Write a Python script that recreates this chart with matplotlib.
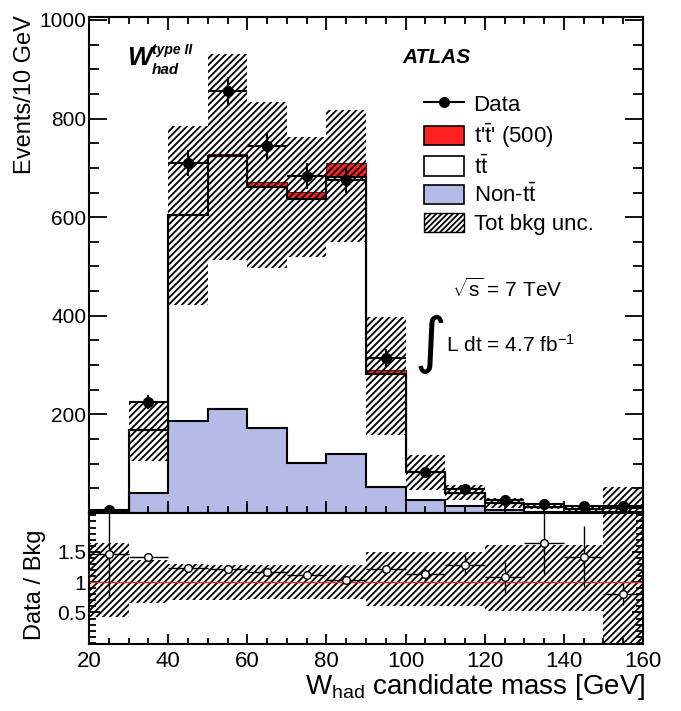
import numpy as np
import matplotlib
matplotlib.use("Agg")
import matplotlib.pyplot as plt
from matplotlib.patches import Patch
from matplotlib.lines import Line2D
from matplotlib.ticker import MultipleLocator, FixedLocator, FuncFormatter

plt.rcParams['font.family'] = ['Liberation Sans', 'DejaVu Sans']
plt.rcParams['mathtext.fontset'] = 'custom'
plt.rcParams['mathtext.rm'] = 'Liberation Sans'
plt.rcParams['mathtext.it'] = 'Liberation Sans:italic'
plt.rcParams['mathtext.bf'] = 'Liberation Sans:bold'
plt.rcParams['hatch.linewidth'] = 1.3

# W_had candidate mass, 10 GeV bins
bin_edges = [20, 30, 40, 50, 60, 70, 80, 90, 100, 110, 120, 130, 140, 150, 160]

data = [6, 225, 710, 855, 745, 683, 675, 314, 84, 48, 26, 19, 14, 14]
data_err = [3, 15, 27, 29, 27, 26, 26, 18, 9, 7, 5, 4, 4, 4]
non_tt = [1, 40, 187, 211, 173, 101, 120, 53, 26, 15, 6, 3, 2, 2]
tt = [1, 128, 417, 514, 489, 536, 562, 228, 57, 25, 14, 10, 7, 8]
tprime = [0, 2, 3, 3, 9, 15, 28, 9, 2, 1, 1, 0, 0, 0]
unc_lo = [0, 105, 422, 513, 497, 519, 550, 158, 47, 26, 10, 8, 5, 0]
unc_hi = [4, 225, 785, 931, 834, 763, 817, 398, 118, 57, 30, 20, 15, 53]

# ratio panel
ratio = [1.46, 1.41, 1.23, 1.22, 1.16, 1.11, 1.03, 1.22, 1.14, 1.28, 1.08, 1.64, 1.41, 0.81]
ratio_err_lo = [0.72, 0.04, 0.04, 0.04, 0.04, 0.04, 0.04, 0.07, 0.13, 0.16, 0.26, 0.50, 0.49, 0.19]
ratio_err_hi = [1.50, 0.04, 0.04, 0.04, 0.04, 0.04, 0.04, 0.07, 0.13, 0.16, 0.25, 0.80, 0.52, 0.18]
ratio_unc_lo = [0.42, 0.66, 0.70, 0.71, 0.72, 0.72, 0.72, 0.60, 0.60, 0.60, 0.52, 0.52, 0.52, 0.0]
ratio_unc_hi = [1.65, 1.36, 1.30, 1.29, 1.28, 1.28, 1.28, 1.50, 1.50, 1.50, 1.62, 1.62, 1.62, 2.3]

edges = np.array(bin_edges)
centers = 0.5 * (edges[:-1] + edges[1:])
half_w = 0.5 * np.diff(edges)
non_tt = np.array(non_tt)
bkg = non_tt + np.array(tt)
sig_top = bkg + np.array(tprime)

blue = '#b3bbe6'
red = '#ff2222'
hatch = '/////'

fig = plt.figure(figsize=(6.81, 7.11), dpi=100)
ax = fig.add_axes([0.1307, 0.2785, 0.8135, 0.6976])
axr = fig.add_axes([0.1307, 0.0942, 0.8135, 0.1843], sharex=ax)

# stacked backgrounds
ax.stairs(non_tt, edges, baseline=0, fill=True, color=blue, lw=0)
ax.stairs(bkg, edges, baseline=non_tt, fill=True, color='white', lw=0)
ax.stairs(sig_top, edges, baseline=bkg, fill=True, facecolor=red, edgecolor='#661111', lw=0.8)
ax.stairs(non_tt, edges, baseline=0, color='black', lw=1.5)
ax.stairs(bkg, edges, baseline=0, color='black', lw=1.5)
ax.stairs(unc_hi, edges, baseline=unc_lo, fill=True, facecolor='none',
          edgecolor='black', lw=0, hatch=hatch)

ax.errorbar(centers, data, yerr=data_err, xerr=half_w, fmt='o', color='black',
            ms=7, elinewidth=1.5, capsize=0, zorder=5)

ax.set_xlim(20, 160)
ax.set_ylim(0, 1006)
ax.yaxis.set_major_locator(FixedLocator([0, 200, 400, 600, 800, 1000]))
ax.yaxis.set_major_formatter(FuncFormatter(lambda v, p: '' if v == 0 else '%d' % v))
ax.yaxis.set_minor_locator(MultipleLocator(50))
ax.xaxis.set_major_locator(MultipleLocator(20))
ax.xaxis.set_minor_locator(MultipleLocator(5))
ax.tick_params(axis='x', which='both', labelbottom=False)
ax.tick_params(which='both', direction='in', top=True, right=True, width=1.3)
ax.tick_params(axis='y', which='major', length=13, labelsize=15, pad=2)
ax.tick_params(axis='y', which='minor', length=7)
ax.tick_params(axis='x', which='major', length=9)
ax.tick_params(axis='x', which='minor', length=5)
for s in ax.spines.values():
    s.set_linewidth(1.5)

# labels inside the main panel
ax.text(0.0686, 0.903, 'W', transform=ax.transAxes, fontsize=19,
        fontweight='bold', fontstyle='italic', va='baseline')
ax.text(0.1137, 0.925, 'type II', transform=ax.transAxes, fontsize=10,
        fontweight='bold', fontstyle='italic', va='baseline')
ax.text(0.1137, 0.886, 'had', transform=ax.transAxes, fontsize=11,
        fontweight='bold', fontstyle='italic', va='baseline')
ax.text(0.565, 0.907, 'ATLAS', transform=ax.transAxes, fontsize=15,
        fontweight='bold', fontstyle='italic', va='baseline')
ax.text(0.655, 0.435, r'$\sqrt{\mathrm{s}}$ = 7 TeV', transform=ax.transAxes,
        fontsize=15, va='baseline')
ax.text(0.588, 0.340, '\u222b', transform=ax.transAxes, fontsize=44,
        family='DejaVu Sans', va='center')
ax.text(0.644, 0.325, r'L dt = 4.7 fb$^{\mathrm{-1}}$', transform=ax.transAxes,
        fontsize=15, va='baseline')

handles = [
    Line2D([], [], color='black', marker='o', ms=7, lw=1.5),
    Patch(facecolor=red, edgecolor='black', lw=1.2),
    Patch(facecolor='white', edgecolor='black', lw=1.2),
    Patch(facecolor=blue, edgecolor='black', lw=1.2),
    Patch(facecolor='white', edgecolor='black', lw=1.0, hatch='//////'),
]
labels = ['Data', r"t'$\bar{\mathrm{t}}$' (500)", r't$\bar{\mathrm{t}}$',
          r'Non-t$\bar{\mathrm{t}}$', 'Tot bkg unc.']
ax.legend(handles, labels, loc='upper left', bbox_to_anchor=(0.604, 0.845),
          frameon=False, fontsize=16, handlelength=1.8, handleheight=0.95,
          labelspacing=0.25, handletextpad=0.45, borderpad=0, borderaxespad=0)

# ratio panel
axr.stairs(ratio_unc_hi, edges, baseline=ratio_unc_lo, fill=True, facecolor='none',
           edgecolor='black', lw=0, hatch=hatch)
axr.axhline(1, color='#e03030', lw=1)
axr.errorbar(centers, ratio, yerr=[ratio_err_lo, ratio_err_hi], xerr=half_w,
             fmt='o', color='black', mfc='white', mec='black', ms=5.5,
             elinewidth=1.0, capsize=0, zorder=5)
axr.set_ylim(-0.02, 2.14)
axr.yaxis.set_major_locator(FixedLocator([0.5, 1.0, 1.5]))
axr.yaxis.set_major_formatter(FuncFormatter(lambda v, p: '%g' % v))
axr.yaxis.set_minor_locator(MultipleLocator(0.1))
axr.tick_params(which='both', direction='in', right=True, width=1.3)
axr.tick_params(axis='y', which='major', length=8, labelsize=15, pad=2)
axr.tick_params(axis='y', which='minor', length=5)
axr.tick_params(axis='x', which='major', length=7, labelsize=16, pad=5)
axr.tick_params(axis='x', which='minor', length=4)
for s in axr.spines.values():
    s.set_linewidth(1.5)

fig.text(0.037, 0.979, 'Events/10 GeV', rotation=90, ha='center', va='top', fontsize=17)
fig.text(0.051, 0.177, 'Data / Bkg', rotation=90, ha='center', va='center', fontsize=17)
fig.text(0.947, 0.012, r'W$_{\mathrm{had}}$ candidate mass [GeV]', ha='right',
         va='bottom', fontsize=20)

fig.savefig('out.png', dpi=100)
